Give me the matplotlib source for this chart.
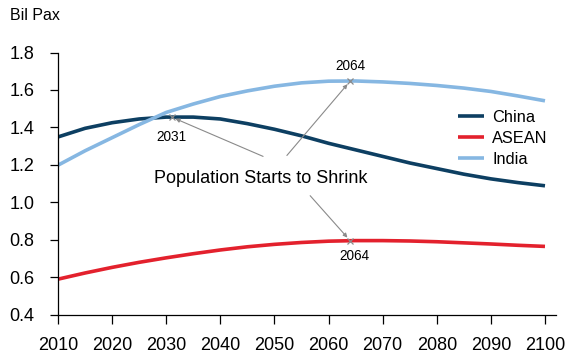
import numpy as np
import matplotlib.pyplot as plt

plt.rcParams['font.family'] = ['Liberation Sans', 'DejaVu Sans']

# population projections, billions, every 5 years
years = list(range(2010, 2101, 5))
china = [1.349, 1.395, 1.425, 1.445, 1.455, 1.455, 1.445, 1.420, 1.390, 1.355,
         1.315, 1.280, 1.245, 1.210, 1.180, 1.150, 1.125, 1.105, 1.088]
asean = [0.589, 0.622, 0.652, 0.679, 0.703, 0.725, 0.745, 0.762, 0.775, 0.785,
         0.792, 0.795, 0.795, 0.793, 0.789, 0.783, 0.777, 0.770, 0.764]
india = [1.198, 1.275, 1.345, 1.415, 1.480, 1.525, 1.565, 1.595, 1.620, 1.638,
         1.647, 1.648, 1.643, 1.635, 1.624, 1.610, 1.592, 1.568, 1.542]

# peak years for each series
peak_china = 2031
peak_india = 2064
peak_asean = 2064

c_china = '#0d3f62'
c_asean = '#e3212d'
c_india = '#86b7e2'
c_note = '#8a8a8a'

fig = plt.figure(figsize=(5.66, 3.55), dpi=100)
ax = fig.add_axes([0.1025, 0.114, 0.8795, 0.738])

ax.plot(years, china, color=c_china, lw=2.6, label='China', solid_capstyle='butt')
ax.plot(years, asean, color=c_asean, lw=2.6, label='ASEAN', solid_capstyle='butt')
ax.plot(years, india, color=c_india, lw=2.6, label='India', solid_capstyle='butt')

ax.set_xlim(2010, 2102)
ax.set_ylim(0.4, 1.8)
ax.set_xticks(range(2010, 2101, 10))
ax.set_yticks(np.arange(0.4, 1.81, 0.2))
ax.yaxis.set_major_formatter(plt.FormatStrFormatter('%.1f'))
ax.tick_params(axis='y', direction='out', length=6, width=0.9, pad=11, labelsize=13)
ax.tick_params(axis='x', direction='out', length=6.5, width=0.9, pad=10, labelsize=13)
for s in ['top', 'right']:
    ax.spines[s].set_visible(False)
for s in ['left', 'bottom']:
    ax.spines[s].set_linewidth(0.9)

fig.text(0.018, 0.955, 'Bil Pax', fontsize=11.5, va='center', ha='left')

# peak markers
pc = (peak_china, np.interp(peak_china, years, china))
pi = (peak_india, np.interp(peak_india, years, india))
pa = (peak_asean, np.interp(peak_asean, years, asean))
for p in (pc, pi, pa):
    ax.plot(*p, marker='x', ms=5, mew=0.9, color=c_note, zorder=5)

ax.annotate(str(peak_china), pc, xytext=(0, -14), textcoords='offset points',
            ha='center', va='center', fontsize=9.8)
ax.annotate(str(peak_india), pi, xytext=(0, 11), textcoords='offset points',
            ha='center', va='center', fontsize=9.8)
ax.annotate(str(peak_asean), pa, xytext=(3, -11), textcoords='offset points',
            ha='center', va='center', fontsize=9.8)

ax.text(2047.5, 1.126, 'Population Starts to Shrink', ha='center', va='center',
        fontsize=13)
arrow = dict(arrowstyle='-|>', color=c_note, lw=0.8, mutation_scale=6,
             shrinkA=0, shrinkB=3)
ax.annotate('', pc, xytext=(2047.9, 1.245), arrowprops=arrow)
ax.annotate('', pi, xytext=(2052.3, 1.250), arrowprops=arrow)
ax.annotate('', pa, xytext=(2056.6, 1.035), arrowprops=arrow)

ax.legend(loc='upper left', bbox_to_anchor=(0.79, 0.805), frameon=False,
          fontsize=11.8, handlelength=1.6, handletextpad=0.5, labelspacing=0.35,
          borderaxespad=0)

fig.savefig('out.png', dpi=100)
